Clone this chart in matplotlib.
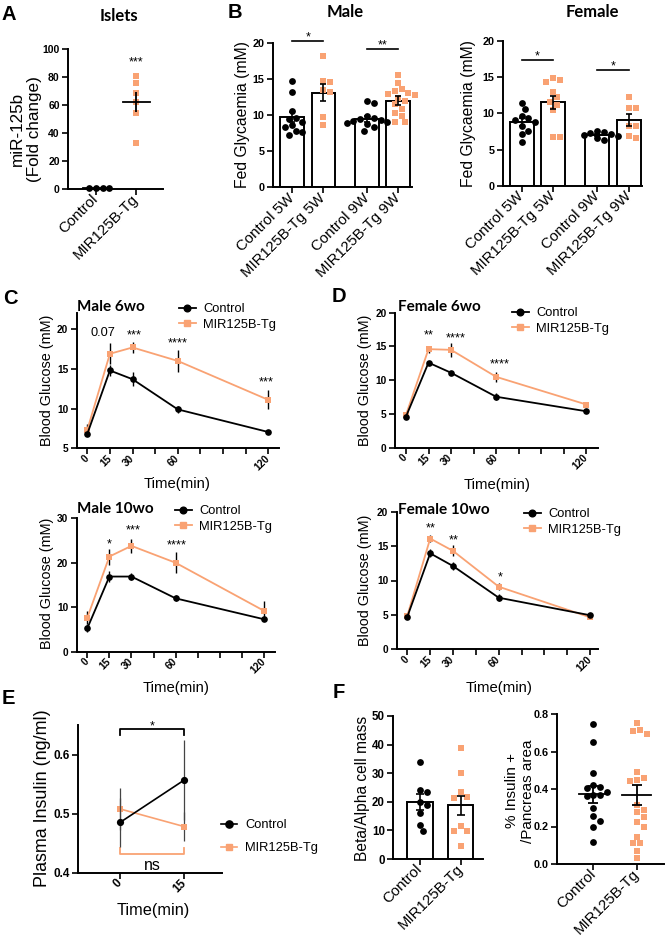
import matplotlib
matplotlib.use('Agg')
import matplotlib.pyplot as plt
import numpy as np
from matplotlib.lines import Line2D

plt.rcParams['font.family'] = ['Liberation Sans', 'DejaVu Sans']
W, H = 666, 939
fig = plt.figure(figsize=(W / 100, H / 100), dpi=100)

ORANGE = '#F9A273'
TITLE_FAM = ['Lato', 'DejaVu Sans']

# ---------------- data ----------------
# Panel A
A_groups = ['Control', 'MIR125B-Tg']
A_ctrl = [1.0, 1.0, 1.0, 1.0]
A_tg = [80.9, 75.9, 68.8, 62.4, 54.5, 33.1]
A_mean = [1.0, 62.3]
A_sem = [0.2, 7.0]

# Panel B
B_groups = ['Control 5W', 'MIR125B-Tg 5W', 'Control 9W', 'MIR125B-Tg 9W']
Bm_c5 = [14.7, 13.2, 10.5, 9.4, 9.6, 9.0, 8.3, 8.6, 7.3, 7.8, 7.6]
Bm_t5 = [18.2, 14.7, 14.5, 13.4, 13.2, 9.7, 8.6]
Bm_c9 = [12.0, 11.6, 9.8, 9.6, 9.5, 9.3, 9.2, 9.0, 8.9, 8.7, 8.3, 7.8]
Bm_t9 = [15.5, 14.4, 13.6, 13.3, 13.1, 12.9, 12.7, 12.3, 12.0, 11.5, 10.8, 10.3, 9.8, 9.1, 9.0]
Bm_mean = [9.7, 13.1, 9.4, 12.0]
Bm_sem = [0.7, 1.2, 0.4, 0.65]
Bf_c5 = [11.4, 10.6, 9.7, 9.4, 9.1, 8.8, 8.3, 7.6, 7.2, 6.1]
Bf_t5 = [14.6, 14.3, 14.8, 13.0, 12.2, 11.5, 11.2, 10.4, 6.8, 6.8]
Bf_c9 = [7.6, 7.4, 7.3, 7.2, 7.0, 6.9, 6.6, 6.4]
Bf_t9 = [12.3, 10.8, 10.7, 8.3, 8.2, 6.9, 6.6]
Bf_mean = [8.8, 11.5, 7.0, 9.1]
Bf_sem = [0.5, 0.9, 0.15, 0.85]
Bm_sig = [(0, 1, 20.3, '*'), (2, 3, 19.1, '**')]
Bf_sig = [(0, 1, 17.4, '*'), (2, 3, 16.0, '*')]

# Panels C / D (GTT)
t = [0, 15, 30, 60, 120]
C6_ctrl = [6.8, 14.8, 13.7, 9.9, 7.05]
C6_ctrl_err = [0.3, 0.75, 0.9, 0.4, 0.15]
C6_tg = [7.3, 16.9, 17.7, 16.0, 11.1]
C6_tg_err = [0.7, 1.3, 0.7, 1.4, 1.2]
C6_ann = [(10.5, 19.5, '0.07'), (30.9, 19.7, '***'), (60.3, 18.7, '****'), (119, 13.8, '***')]

D6_ctrl = [4.6, 12.6, 11.1, 7.55, 5.4]
D6_ctrl_err = [0.3, 0.3, 0.25, 0.5, 0.2]
D6_tg = [4.85, 14.6, 14.5, 10.5, 6.4]
D6_tg_err = [0.2, 0.5, 1.0, 0.7, 0.3]
D6_ann = [(15, 17.3, '**'), (33.3, 16.8, '****'), (62.7, 13.0, '****')]

C10_ctrl = [5.25, 16.9, 16.9, 12.0, 7.3]
C10_ctrl_err = [0.9, 1.3, 0.7, 0.7, 0.4]
C10_tg = [7.65, 21.4, 23.8, 20.0, 9.2]
C10_tg_err = [1.5, 1.8, 1.5, 2.4, 2.1]
C10_ann = [(14.8, 25.1, '*'), (31, 28.1, '***'), (60.7, 24.75, '****')]

D10_ctrl = [4.75, 13.95, 12.1, 7.5, 4.95]
D10_ctrl_err = [0.2, 0.6, 0.6, 0.5, 0.3]
D10_tg = [4.9, 16.1, 14.3, 9.1, 4.65]
D10_tg_err = [0.2, 0.5, 0.8, 0.5, 0.2]
D10_ann = [(15.1, 18.1, '**'), (30.7, 16.4, '**'), (60.9, 11.0, '*')]

# Panel E
E_t = [0, 15]
E_ctrl = [0.485, 0.557]
E_ctrl_err = [0.042, 0.068]
E_tg = [0.508, 0.478]
E_tg_err = [0.036, 0.025]

# Panel F
F_groups = ['Control', 'MIR125B-Tg']
F1_ctrl = [34.0, 24.2, 23.4, 19.8, 19.0, 16.0, 12.0, 9.8]
F1_tg = [38.9, 29.9, 23.5, 21.8, 21.5, 11.6, 9.9, 9.9, 4.7]
F1_mean = [19.8, 18.8]
F1_sem = [2.8, 3.4]
F2_ctrl = [0.745, 0.652, 0.488, 0.42, 0.41, 0.405, 0.385, 0.37, 0.37, 0.365, 0.30, 0.255, 0.23, 0.20, 0.115]
F2_tg = [0.75, 0.71, 0.695, 0.715, 0.49, 0.46, 0.445, 0.45, 0.315, 0.29, 0.275, 0.25, 0.225, 0.20,
         0.145, 0.11, 0.11, 0.07, 0.03]
F2_mean = [0.372, 0.368]
F2_sem = [0.045, 0.055]


# ---------------- helpers ----------------
def add_ax(l, t_, r, b):
    return fig.add_axes([l / W, 1 - b / H, (r - l) / W, (b - t_) / H])


def style(ax, yticks, fmt='{:g}', fs=7.5):
    for s in ['top', 'right']:
        ax.spines[s].set_visible(False)
    for s in ['left', 'bottom']:
        ax.spines[s].set_linewidth(1.4)
    ax.tick_params(width=1.2, length=4, direction='out', pad=2)
    ax.set_yticks(yticks)
    ax.set_yticklabels([fmt.format(v) for v in yticks], fontweight='bold', fontsize=fs)


def ftext(x, y, s, **kw):
    fig.text(x / W, 1 - y / H, s, **kw)


def star(ax, x, y, s, fs=9, color='black'):
    if set(s) == {'*'}:
        ax.annotate(s, (x, y), xytext=(0, -0.55 * fs), textcoords='offset points',
                    ha='center', va='baseline', fontsize=fs, color=color, annotation_clip=False)
    else:
        ax.text(x, y, s, ha='center', va='center', fontsize=fs, color=color)


def swarm(ax, xc, vals, diam_px, step_frac=0.5):
    tr = ax.transData
    inv = tr.inverted()
    x0 = tr.transform((xc, 0))[0]
    ys = [tr.transform((xc, v))[1] for v in vals]
    order = sorted(range(len(vals)), key=lambda i: -ys[i])
    placed = []
    out = [xc] * len(vals)
    step = diam_px * step_frac
    for i in order:
        y = ys[i]
        for k in range(200):
            off = ((k + 1) // 2) * step * (1 if k % 2 else -1)
            ok = all((off - ox) ** 2 + (y - oy) ** 2 >= (diam_px * 0.98) ** 2 for ox, oy in placed)
            if ok:
                break
        placed.append((off, y))
        out[i] = inv.transform((x0 + off, y))[0]
    return out


def cat_labels(ax, pos, labels, fs=10.8):
    ax.set_xticks(pos)
    ax.set_xticklabels(labels, rotation=45, ha='right', va='center', rotation_mode='anchor',
                       fontsize=fs)


def points(ax, xc, vals, kind, ms_px=6.8):
    xs = swarm(ax, xc, vals, ms_px)
    if kind == 'c':
        ax.plot(xs, vals, 'o', color='black', ms=ms_px * 0.72, mew=0, zorder=3, clip_on=False)
    else:
        ax.plot(xs, vals, 's', color=ORANGE, ms=ms_px * 0.68, mew=0, zorder=3, clip_on=False)


# ---------------- Panel A ----------------
axA = add_ax(68, 49, 163, 189)
axA.set_xlim(-0.69, 1.66)
axA.set_ylim(0, 100)
style(axA, [0, 20, 40, 60, 80, 100], fs=7.5)
cat_labels(axA, [0, 1], A_groups)
points(axA, 0, A_ctrl, 'c')
points(axA, 1, A_tg, 't')
for i in range(2):
    axA.plot([i - 0.33, i + 0.33], [A_mean[i]] * 2, color='black', lw=1.3, zorder=4, clip_on=False)
    axA.errorbar(i, A_mean[i], yerr=A_sem[i], color='black', lw=1.3, capsize=0, zorder=4)
star(axA, 1, 93, '***', 9)
ftext(119, 16, 'Islets', ha='center', va='center', fontsize=12, fontweight='bold', family=TITLE_FAM)
ftext(26, 129, 'miR-125b\n(Fold change)', rotation=90, ha='center', va='center', fontsize=12.3,
      linespacing=1.15)

# ---------------- Panel B ----------------
B_pos = [0, 1, 2.39, 3.39]


def panelB(ax, c5, t5, c9, t9, means, sems, sig):
    ax.set_ylim(0, 20)
    style(ax, [0, 5, 10, 15, 20], fs=7.8)
    cat_labels(ax, B_pos, B_groups)
    ax.bar(B_pos, means, width=0.76, color='white', edgecolor='black', lw=1.4, zorder=1)
    groups = [(c5, 'c'), (t5, 't'), (c9, 'c'), (t9, 't')]
    for p, (vals, k) in zip(B_pos, groups):
        points(ax, p, vals, k)
    ax.errorbar(B_pos, means, yerr=sems, fmt='none', ecolor='black', elinewidth=1.2, capsize=2.5,
                capthick=1.2, zorder=5)
    for a, b, y, s in sig:
        ax.plot([B_pos[a], B_pos[b]], [y, y], color='black', lw=1.2, clip_on=False)
        star(ax, (B_pos[a] + B_pos[b]) / 2, y + 1.0, s, 9)


axBm = add_ax(272.7, 42.7, 411.7, 187.3)
axBm.set_xlim(-0.62, 3.82)
panelB(axBm, Bm_c5, Bm_t5, Bm_c9, Bm_t9, Bm_mean, Bm_sem, Bm_sig)
axBf = add_ax(502.7, 40.7, 641.7, 186)
axBf.set_xlim(-0.6, 3.8)
panelB(axBf, Bf_c5, Bf_t5, Bf_c9, Bf_t9, Bf_mean, Bf_sem, Bf_sig)
ftext(345, 12, 'Male', ha='center', va='center', fontsize=12, fontweight='bold', family=TITLE_FAM)
ftext(592, 12, 'Female', ha='center', va='center', fontsize=12, fontweight='bold', family=TITLE_FAM)
ftext(242, 115, 'Fed Glycaemia (mM)', rotation=90, ha='center', va='center', fontsize=11.3)
ftext(469, 114, 'Fed Glycaemia (mM)', rotation=90, ha='center', va='center', fontsize=11.3)


# ---------------- Panels C / D ----------------
def gtt(ax, ctrl, ce, tg, te, ann, ylim, yticks, leg_xy):
    ax.set_ylim(*ylim)
    style(ax, yticks, fs=7.3)
    ax.set_xticks(list(range(0, 121, 15)))
    ax.set_xticklabels(['0', '15', '30', '', '60', '', '', '', '120'], rotation=45, ha='right',
                       va='center', rotation_mode='anchor', fontweight='bold', fontsize=7.3)
    ax.errorbar(t, tg, yerr=te, color=ORANGE, marker='s', ms=4.6, mew=0, lw=1.3,
                ecolor='black', elinewidth=1.0, capsize=2.2, capthick=1.0, zorder=3, clip_on=False)
    ax.errorbar(t, ctrl, yerr=ce, color='black', marker='o', ms=4.8, mew=0, lw=1.3,
                ecolor='black', elinewidth=1.0, capsize=2.2, capthick=1.0, zorder=4, clip_on=False)
    for x, y, s in ann:
        star(ax, x, y, s, 9.2)
    handles = [Line2D([], [], color='black', marker='o', ms=4.8, lw=1.3),
               Line2D([], [], color=ORANGE, marker='s', ms=4.6, lw=1.3)]
    fig.legend(handles, ['Control', 'MIR125B-Tg'], loc='upper left',
               bbox_to_anchor=(leg_xy[0] / W, 1 - leg_xy[1] / H), frameon=False, fontsize=9.3,
               handlelength=1.3, handletextpad=0.55, borderpad=0, borderaxespad=0,
               labelspacing=0.3)


axC6 = add_ax(76.7, 313.3, 279.3, 448.3)
axC6.set_xlim(-7, 127.3)
gtt(axC6, C6_ctrl, C6_ctrl_err, C6_tg, C6_tg_err, C6_ann, (5, 22), [5, 10, 15, 20], (179, 303))
axD6 = add_ax(395, 312.7, 598.3, 447.7)
axD6.set_xlim(-7.3, 128)
gtt(axD6, D6_ctrl, D6_ctrl_err, D6_tg, D6_tg_err, D6_ann, (0, 20), [0, 5, 10, 15, 20], (512, 307))
axC10 = add_ax(76.7, 518.3, 275, 651.7)
axC10.set_xlim(-7.2, 127.5)
gtt(axC10, C10_ctrl, C10_ctrl_err, C10_tg, C10_tg_err, C10_ann, (0, 30), [0, 10, 20, 30], (175, 505))
axD10 = add_ax(396.7, 511.7, 598.3, 649.3)
axD10.set_xlim(-7.0, 125.4)
gtt(axD10, D10_ctrl, D10_ctrl_err, D10_tg, D10_tg_err, D10_ann, (0, 20), [0, 5, 10, 15, 20], (524, 508))

for (x, y, s) in [(77, 307, 'Male 6wo'), (398, 307, 'Female 6wo'), (77, 509, 'Male 10wo'),
                  (398, 510, 'Female 10wo')]:
    ftext(x, y, s, ha='left', va='center', fontsize=11, fontweight='bold', family=TITLE_FAM)
for (x, y) in [(177, 484), (497, 485), (176, 688), (499, 688)]:
    ftext(x, y, 'Time(min)', ha='center', va='center', fontsize=10.7)
for (x, y) in [(47, 380), (365, 380), (47, 583), (365, 580)]:
    ftext(x, y, 'Blood Glucose (mM)', rotation=90, ha='center', va='center', fontsize=10.4)

# ---------------- Panel E ----------------
axE = add_ax(78.3, 725, 221.7, 872.7)
axE.set_xlim(-9.7, 23.7)
axE.set_ylim(0.4, 0.65)
style(axE, [0.4, 0.5, 0.6], fs=8.5)
axE.set_xticks(E_t)
axE.set_xticklabels([str(v) for v in E_t], rotation=45, ha='right', va='center',
                    rotation_mode='anchor', fontweight='bold', fontsize=8.5)
axE.errorbar(E_t, E_tg, yerr=E_tg_err, color=ORANGE, marker='s', ms=5.0, mew=0, lw=1.2,
             ecolor='#444444', elinewidth=0.9, capsize=3.5, capthick=0.9, zorder=3)
axE.errorbar(E_t, E_ctrl, yerr=E_ctrl_err, color='black', marker='o', ms=5.2, mew=0, lw=1.2,
             ecolor='#444444', elinewidth=0.9, capsize=3.5, capthick=0.9, zorder=4)
axE.plot([0, 0, 15, 15], [0.633, 0.643, 0.643, 0.633], color='black', lw=1.3, clip_on=False)
star(axE, 7.5, 0.654, '*', 9)
axE.plot([0, 0, 15, 15], [0.441, 0.431, 0.431, 0.441], color=ORANGE, lw=1.3, clip_on=False)
axE.text(7.5, 0.413, 'ns', ha='center', va='center', fontsize=11.5)
hE = [Line2D([], [], color='black', marker='o', ms=5.2, lw=1.2),
      Line2D([], [], color=ORANGE, marker='s', ms=5.0, lw=1.2)]
fig.legend(hE, ['Control', 'MIR125B-Tg'], loc='upper left', bbox_to_anchor=(221 / W, 1 - 819 / H),
           frameon=False, fontsize=9.3, handlelength=1.25, handletextpad=0.6, borderpad=0,
           borderaxespad=0, labelspacing=0.85)
ftext(153, 910, 'Time(min)', ha='center', va='center', fontsize=11.7)
ftext(43, 798, 'Plasma Insulin (ng/ml)', rotation=90, ha='center', va='center', fontsize=12.9)

# ---------------- Panel F ----------------
axF1 = add_ax(393.3, 716, 483.3, 859)
axF1.set_xlim(-0.66, 1.56)
axF1.set_ylim(0, 50)
style(axF1, [0, 10, 20, 30, 40, 50], fs=8.3)
cat_labels(axF1, [0, 1], F_groups)
axF1.bar([0, 1], F1_mean, width=0.62, color='white', edgecolor='black', lw=1.4, zorder=1)
points(axF1, 0, F1_ctrl, 'c')
points(axF1, 1, F1_tg, 't')
axF1.errorbar([0, 1], F1_mean, yerr=F1_sem, fmt='none', ecolor='black', elinewidth=1.2,
              capsize=3, capthick=1.2, zorder=5)
ftext(363, 788, 'Beta/Alpha cell mass', rotation=90, ha='center', va='center', fontsize=11.2)

axF2 = add_ax(556.7, 714, 664, 864)
axF2.set_xlim(-0.85, 1.63)
axF2.set_ylim(0, 0.8)
style(axF2, [0, 0.2, 0.4, 0.6, 0.8], fmt='{:.1f}', fs=7.8)
cat_labels(axF2, [0, 1], F_groups)
points(axF2, 0, F2_ctrl, 'c')
points(axF2, 1, F2_tg, 't')
for i in range(2):
    axF2.plot([i - 0.33, i + 0.33], [F2_mean[i]] * 2, color='black', lw=1.3, zorder=4)
axF2.errorbar([0, 1], F2_mean, yerr=F2_sem, fmt='none', ecolor='black', elinewidth=1.3,
              capsize=3.5, capthick=1.3, zorder=4)
ftext(520, 791, '% Insulin +\n/Pancreas area', rotation=90, ha='center', va='center',
      fontsize=11, linespacing=1.1)

# ---------------- panel letters ----------------
for (x, y, s) in [(2, 14, 'A'), (228, 12, 'B'), (3, 298, 'C'), (332, 296, 'D'), (2, 698, 'E'),
                  (333, 692, 'F')]:
    ftext(x, y, s, ha='left', va='center', fontsize=14.5, fontweight='bold')

fig.savefig('out.png', dpi=100)
